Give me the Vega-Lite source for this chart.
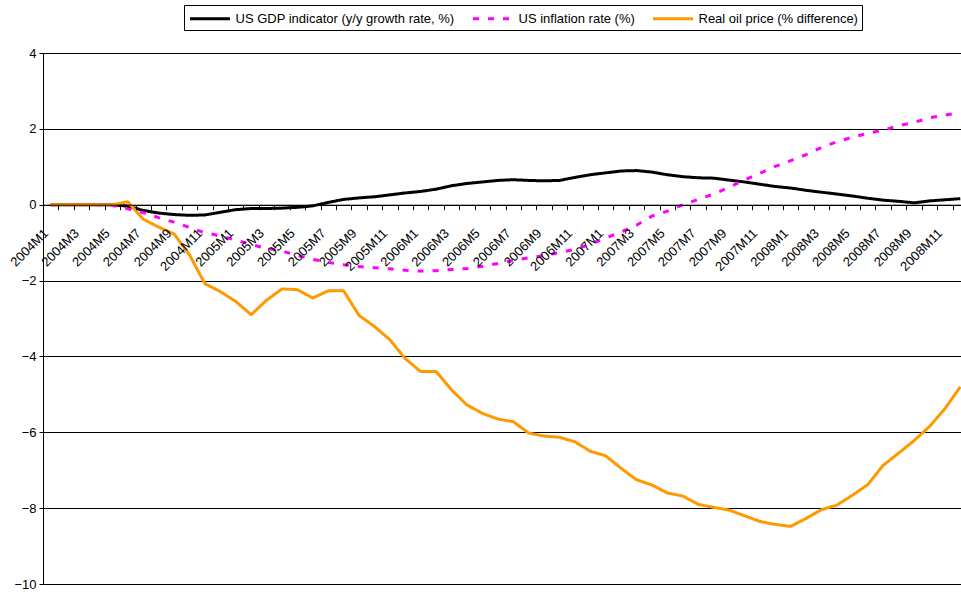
{
  "$schema": "https://vega.github.io/schema/vega-lite/v6.json",
  "width": 918,
  "height": 531,
  "autosize": {"type": "none"},
  "padding": {"left": 43, "top": 53, "right": 0, "bottom": 10},
  "background": "white",
  "config": {
    "view": {"stroke": null},
    "font": "Liberation Sans",
    "legend": {
      "orient": "none",
      "legendX": 141,
      "legendY": -48,
      "direction": "horizontal",
      "columns": 3,
      "strokeColor": "black",
      "fillColor": "white",
      "padding": 4,
      "columnPadding": 12,
      "labelFontSize": 13,
      "labelFont": "Liberation Sans",
      "labelLimit": 400,
      "labelColor": "black",
      "symbolType": "M-2.5,0H2.5",
      "symbolSize": 256,
      "symbolStrokeWidth": 3,
      "symbolOffset": 12.5,
      "labelOffset": 16,
      "cornerRadius": 0
    }
  },
  "data": {
    "values": [
      {"m": "2004M1", "gdp": 0, "inf": 0, "oil": 0},
      {"m": "2004M2", "gdp": 0, "inf": 0, "oil": 0},
      {"m": "2004M3", "gdp": 0, "inf": 0, "oil": 0},
      {"m": "2004M4", "gdp": 0, "inf": 0, "oil": 0},
      {"m": "2004M5", "gdp": 0, "inf": -0.02, "oil": 0},
      {"m": "2004M6", "gdp": -0.04, "inf": -0.11, "oil": 0.08},
      {"m": "2004M7", "gdp": -0.15, "inf": -0.21, "oil": -0.38},
      {"m": "2004M8", "gdp": -0.22, "inf": -0.34, "oil": -0.59},
      {"m": "2004M9", "gdp": -0.26, "inf": -0.46, "oil": -0.77},
      {"m": "2004M10", "gdp": -0.28, "inf": -0.6, "oil": -1.32},
      {"m": "2004M11", "gdp": -0.27, "inf": -0.74, "oil": -2.08},
      {"m": "2004M12", "gdp": -0.2, "inf": -0.82, "oil": -2.29},
      {"m": "2005M1", "gdp": -0.13, "inf": -0.93, "oil": -2.55},
      {"m": "2005M2", "gdp": -0.1, "inf": -1.05, "oil": -2.9},
      {"m": "2005M3", "gdp": -0.1, "inf": -1.15, "oil": -2.52},
      {"m": "2005M4", "gdp": -0.09, "inf": -1.22, "oil": -2.22},
      {"m": "2005M5", "gdp": -0.07, "inf": -1.34, "oil": -2.24},
      {"m": "2005M6", "gdp": -0.03, "inf": -1.44, "oil": -2.46},
      {"m": "2005M7", "gdp": 0.06, "inf": -1.52, "oil": -2.27},
      {"m": "2005M8", "gdp": 0.14, "inf": -1.58, "oil": -2.27},
      {"m": "2005M9", "gdp": 0.18, "inf": -1.63, "oil": -2.92},
      {"m": "2005M10", "gdp": 0.21, "inf": -1.66, "oil": -3.21},
      {"m": "2005M11", "gdp": 0.26, "inf": -1.69, "oil": -3.56},
      {"m": "2005M12", "gdp": 0.31, "inf": -1.73, "oil": -4.06},
      {"m": "2006M1", "gdp": 0.35, "inf": -1.75, "oil": -4.4},
      {"m": "2006M2", "gdp": 0.41, "inf": -1.74, "oil": -4.4},
      {"m": "2006M3", "gdp": 0.5, "inf": -1.71, "oil": -4.88},
      {"m": "2006M4", "gdp": 0.56, "inf": -1.68, "oil": -5.28},
      {"m": "2006M5", "gdp": 0.6, "inf": -1.62, "oil": -5.5},
      {"m": "2006M6", "gdp": 0.64, "inf": -1.55, "oil": -5.65},
      {"m": "2006M7", "gdp": 0.66, "inf": -1.47, "oil": -5.72},
      {"m": "2006M8", "gdp": 0.64, "inf": -1.4, "oil": -6.02},
      {"m": "2006M9", "gdp": 0.63, "inf": -1.34, "oil": -6.1},
      {"m": "2006M10", "gdp": 0.64, "inf": -1.26, "oil": -6.13},
      {"m": "2006M11", "gdp": 0.72, "inf": -1.18, "oil": -6.25},
      {"m": "2006M12", "gdp": 0.79, "inf": -1.04, "oil": -6.5},
      {"m": "2007M1", "gdp": 0.84, "inf": -0.88, "oil": -6.62},
      {"m": "2007M2", "gdp": 0.89, "inf": -0.72, "oil": -6.95},
      {"m": "2007M3", "gdp": 0.9, "inf": -0.54, "oil": -7.25},
      {"m": "2007M4", "gdp": 0.86, "inf": -0.3, "oil": -7.39},
      {"m": "2007M5", "gdp": 0.79, "inf": -0.17, "oil": -7.6},
      {"m": "2007M6", "gdp": 0.74, "inf": 0.0, "oil": -7.68},
      {"m": "2007M7", "gdp": 0.71, "inf": 0.14, "oil": -7.9},
      {"m": "2007M8", "gdp": 0.7, "inf": 0.28, "oil": -7.98},
      {"m": "2007M9", "gdp": 0.65, "inf": 0.46, "oil": -8.05},
      {"m": "2007M10", "gdp": 0.6, "inf": 0.65, "oil": -8.2},
      {"m": "2007M11", "gdp": 0.54, "inf": 0.83, "oil": -8.35},
      {"m": "2007M12", "gdp": 0.48, "inf": 1.01, "oil": -8.43},
      {"m": "2008M1", "gdp": 0.44, "inf": 1.16, "oil": -8.48},
      {"m": "2008M2", "gdp": 0.38, "inf": 1.32, "oil": -8.27},
      {"m": "2008M3", "gdp": 0.33, "inf": 1.51, "oil": -8.04},
      {"m": "2008M4", "gdp": 0.28, "inf": 1.66, "oil": -7.92},
      {"m": "2008M5", "gdp": 0.23, "inf": 1.78, "oil": -7.66},
      {"m": "2008M6", "gdp": 0.17, "inf": 1.88, "oil": -7.38},
      {"m": "2008M7", "gdp": 0.12, "inf": 1.97, "oil": -6.87},
      {"m": "2008M8", "gdp": 0.09, "inf": 2.08, "oil": -6.55},
      {"m": "2008M9", "gdp": 0.05, "inf": 2.17, "oil": -6.22},
      {"m": "2008M10", "gdp": 0.1, "inf": 2.29, "oil": -5.85},
      {"m": "2008M11", "gdp": 0.13, "inf": 2.36, "oil": -5.38},
      {"m": "2008M12", "gdp": 0.16, "inf": 2.43, "oil": -4.8}
    ]
  },
  "transform": [{"fold": ["gdp", "inf", "oil"], "as": ["series", "value"]}],
  "mark": {"type": "line", "strokeWidth": 3, "strokeCap": "butt", "strokeJoin": "round"},
  "encoding": {
    "x": {
      "field": "m",
      "type": "ordinal",
      "sort": null,
      "scale": {"type": "band", "paddingInner": 0, "paddingOuter": 0, "range": [0, 925]},
      "axis": {
        "title": null,
        "orient": "bottom",
        "offset": -379.3,
        "domainColor": "black",
        "domainWidth": 1,
        "tickColor": "black",
        "tickSize": 5,
        "tickBand": "extent",
        "labelAngle": -45,
        "labelAlign": "right",
        "labelBaseline": "middle",
        "labelPadding": 21,
        "labelOffset": -5,
        "labelFontSize": 13,
        "labelFont": "Liberation Sans",
        "labelColor": "black",
        "labelOverlap": false,
        "labelExpr": "test(/M(1|3|5|7|9|11)$/, datum.label) ? datum.label : ''",
        "grid": false,
        "zindex": 1
      }
    },
    "y": {
      "field": "value",
      "type": "quantitative",
      "scale": {"domain": [-10, 4], "nice": false, "zero": false},
      "axis": {
        "title": null,
        "values": [-10, -8, -6, -4, -2, 0, 2, 4],
        "grid": true,
        "gridColor": "black",
        "gridWidth": 1,
        "domainColor": "black",
        "tickColor": "black",
        "tickSize": 4,
        "labelPadding": 3,
        "labelFontSize": 13,
        "labelFont": "Liberation Sans",
        "labelColor": "black"
      }
    },
    "color": {
      "field": "series",
      "type": "nominal",
      "scale": {"domain": ["gdp", "inf", "oil"], "range": ["#000000", "#FF00FF", "#FF9900"]},
      "legend": {"title": null, "labelExpr": "datum.value == 'gdp' ? 'US GDP indicator (y/y growth rate, %)' : datum.value == 'inf' ? 'US inflation rate (%)' : 'Real oil price (% difference)'"}
    },
    "strokeDash": {
      "field": "series",
      "type": "nominal",
      "scale": {"domain": ["gdp", "inf", "oil"], "range": [[1, 0], [6, 9], [1, 0]]},
      "legend": {"title": null, "labelExpr": "datum.value == 'gdp' ? 'US GDP indicator (y/y growth rate, %)' : datum.value == 'inf' ? 'US inflation rate (%)' : 'Real oil price (% difference)'"}
    }
  }
}
